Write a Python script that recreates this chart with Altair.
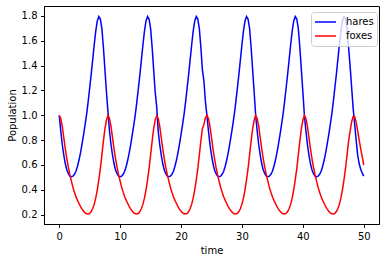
import altair as alt
import pandas as pd

# time samples (every 0.25 from 0 to 50)
time = [i * 0.25 for i in range(201)]

# hares, read cycle by cycle (each chunk = 8 time units)
hares_c0 = [1.000, 0.875, 0.765, 0.680, 0.610, 0.560, 0.530, 0.510, 0.505, 0.510, 0.525, 0.550, 0.590, 0.640, 0.700, 0.770,
            0.845, 0.925, 1.010, 1.110, 1.220, 1.330, 1.450, 1.570, 1.680, 1.760, 1.795, 1.775, 1.700, 1.550, 1.370, 1.190]
hares_c1 = [1.030, 0.875, 0.765, 0.680, 0.610, 0.560, 0.530, 0.510, 0.505, 0.510, 0.525, 0.550, 0.590, 0.640, 0.700, 0.770,
            0.845, 0.925, 1.010, 1.110, 1.220, 1.330, 1.450, 1.570, 1.680, 1.760, 1.795, 1.775, 1.700, 1.550, 1.370, 1.190]
hares_c2 = [1.070, 0.875, 0.765, 0.680, 0.610, 0.560, 0.530, 0.510, 0.505, 0.510, 0.525, 0.550, 0.590, 0.640, 0.700, 0.770,
            0.845, 0.925, 1.010, 1.110, 1.220, 1.330, 1.450, 1.570, 1.680, 1.760, 1.795, 1.775, 1.700, 1.550, 1.370, 1.280]
hares_c3 = [1.110, 1.000, 0.875, 0.765, 0.680, 0.610, 0.560, 0.530, 0.510, 0.505, 0.510, 0.525, 0.550, 0.590, 0.640, 0.700,
            0.770, 0.845, 0.925, 1.010, 1.110, 1.220, 1.330, 1.450, 1.570, 1.680, 1.760, 1.795, 1.775, 1.700, 1.550, 1.370]
hares_c4 = [1.190, 1.000, 0.875, 0.765, 0.680, 0.610, 0.560, 0.530, 0.510, 0.505, 0.510, 0.525, 0.550, 0.590, 0.640, 0.700,
            0.770, 0.845, 0.925, 1.010, 1.110, 1.220, 1.330, 1.450, 1.570, 1.680, 1.760, 1.795, 1.775, 1.700, 1.550, 1.370]
hares_c5 = [1.190, 1.000, 0.875, 0.765, 0.680, 0.610, 0.560, 0.530, 0.510, 0.505, 0.510, 0.525, 0.550, 0.590, 0.640, 0.700,
            0.770, 0.845, 0.925, 1.010, 1.110, 1.220, 1.330, 1.450, 1.570, 1.680, 1.760, 1.795, 1.775, 1.700, 1.550, 1.400]
hares_c6 = [1.230, 1.060, 0.930, 0.800, 0.680, 0.610, 0.565, 0.535, 0.510]

# foxes, read cycle by cycle
foxes_c0 = [1.000, 0.975, 0.910, 0.820, 0.730, 0.650, 0.580, 0.520, 0.470, 0.420, 0.380, 0.345, 0.315, 0.290, 0.265, 0.245,
            0.228, 0.215, 0.207, 0.205, 0.210, 0.225, 0.250, 0.285, 0.335, 0.400, 0.480, 0.570, 0.680, 0.790, 0.890, 0.960]
foxes_c1 = [1.000, 0.975, 0.910, 0.820, 0.730, 0.650, 0.580, 0.520, 0.470, 0.420, 0.380, 0.345, 0.315, 0.290, 0.265, 0.245,
            0.228, 0.215, 0.207, 0.205, 0.210, 0.225, 0.250, 0.285, 0.335, 0.400, 0.480, 0.570, 0.680, 0.790, 0.890, 0.960]
foxes_c2 = [0.995, 0.975, 0.910, 0.820, 0.730, 0.650, 0.580, 0.520, 0.470, 0.420, 0.380, 0.345, 0.315, 0.290, 0.265, 0.245,
            0.228, 0.215, 0.207, 0.205, 0.210, 0.225, 0.250, 0.285, 0.335, 0.400, 0.480, 0.570, 0.680, 0.790, 0.890, 0.925]
foxes_c3 = [0.980, 1.000, 0.975, 0.910, 0.820, 0.730, 0.650, 0.580, 0.520, 0.470, 0.420, 0.380, 0.345, 0.315, 0.290, 0.265,
            0.245, 0.228, 0.215, 0.207, 0.205, 0.210, 0.225, 0.250, 0.285, 0.335, 0.400, 0.480, 0.570, 0.680, 0.790, 0.890]
foxes_c4 = [0.960, 1.000, 0.975, 0.910, 0.820, 0.730, 0.650, 0.580, 0.520, 0.470, 0.420, 0.380, 0.345, 0.315, 0.290, 0.265,
            0.245, 0.228, 0.215, 0.207, 0.205, 0.210, 0.225, 0.250, 0.285, 0.335, 0.400, 0.480, 0.570, 0.680, 0.790, 0.890]
foxes_c5 = [0.960, 1.000, 0.975, 0.910, 0.820, 0.730, 0.650, 0.580, 0.520, 0.470, 0.420, 0.380, 0.345, 0.315, 0.290, 0.265,
            0.245, 0.228, 0.215, 0.207, 0.205, 0.210, 0.225, 0.250, 0.285, 0.335, 0.400, 0.480, 0.570, 0.680, 0.790, 0.870]
foxes_c6 = [0.945, 0.990, 0.990, 0.945, 0.875, 0.800, 0.730, 0.665, 0.600]

hares = hares_c0 + hares_c1 + hares_c2 + hares_c3 + hares_c4 + hares_c5 + hares_c6
foxes = foxes_c0 + foxes_c1 + foxes_c2 + foxes_c3 + foxes_c4 + foxes_c5 + foxes_c6

series_names = ["hares", "foxes"]
series_colors = ["#0000ff", "#ff0000"]
x_ticks = [0, 10, 20, 30, 40, 50]
y_ticks = [0.2, 0.4, 0.6, 0.8, 1.0, 1.2, 1.4, 1.6, 1.8]

df = pd.DataFrame({
    "time": time + time,
    "value": hares + foxes,
    "series": ["hares"] * len(time) + ["foxes"] * len(time),
})

color = alt.Color(
    "series:N",
    scale=alt.Scale(domain=series_names, range=series_colors),
    legend=alt.Legend(
        title=None, orient="none", legendX=267, legendY=6,
        symbolType="stroke", symbolSize=441, symbolStrokeWidth=1.5,
        labelFontSize=10, labelFont="DejaVu Sans", labelColor="black",
        labelOffset=9, clipHeight=14, rowPadding=0,
        fillColor="rgba(255,255,255,0.8)", strokeColor="#cccccc",
        cornerRadius=3, padding=3,
    ),
)

x = alt.X("time:Q", scale=alt.Scale(domain=[-2.5, 52.5], nice=False, zero=False),
          axis=alt.Axis(values=x_ticks, title="time", format="d", titlePadding=4))
y = alt.Y("value:Q", scale=alt.Scale(domain=[0.125, 1.88], nice=False, zero=False),
          axis=alt.Axis(values=y_ticks, title="Population", format=".1f", titlePadding=4))

base = alt.Chart(df).mark_line(strokeWidth=1.5, clip=True).encode(x=x, y=y, color=color)

chart = alt.layer(
    base.transform_filter(alt.datum.series == "hares"),
    base.transform_filter(alt.datum.series == "foxes"),
).properties(
    width=335, height=218,
    padding={"left": 44, "top": 6, "right": 7, "bottom": 38},
    autosize="none",
).configure_view(
    stroke="black", strokeWidth=1
).configure_axis(
    grid=False, domainColor="black", tickColor="black", tickSize=3.5,
    labelFont="DejaVu Sans", labelFontSize=10, labelColor="black", labelPadding=3.5,
    titleFont="DejaVu Sans", titleFontSize=10, titleFontWeight="normal", titleColor="black",
)

chart.save("out.html", embed_options={"renderer": "svg", "actions": False})
